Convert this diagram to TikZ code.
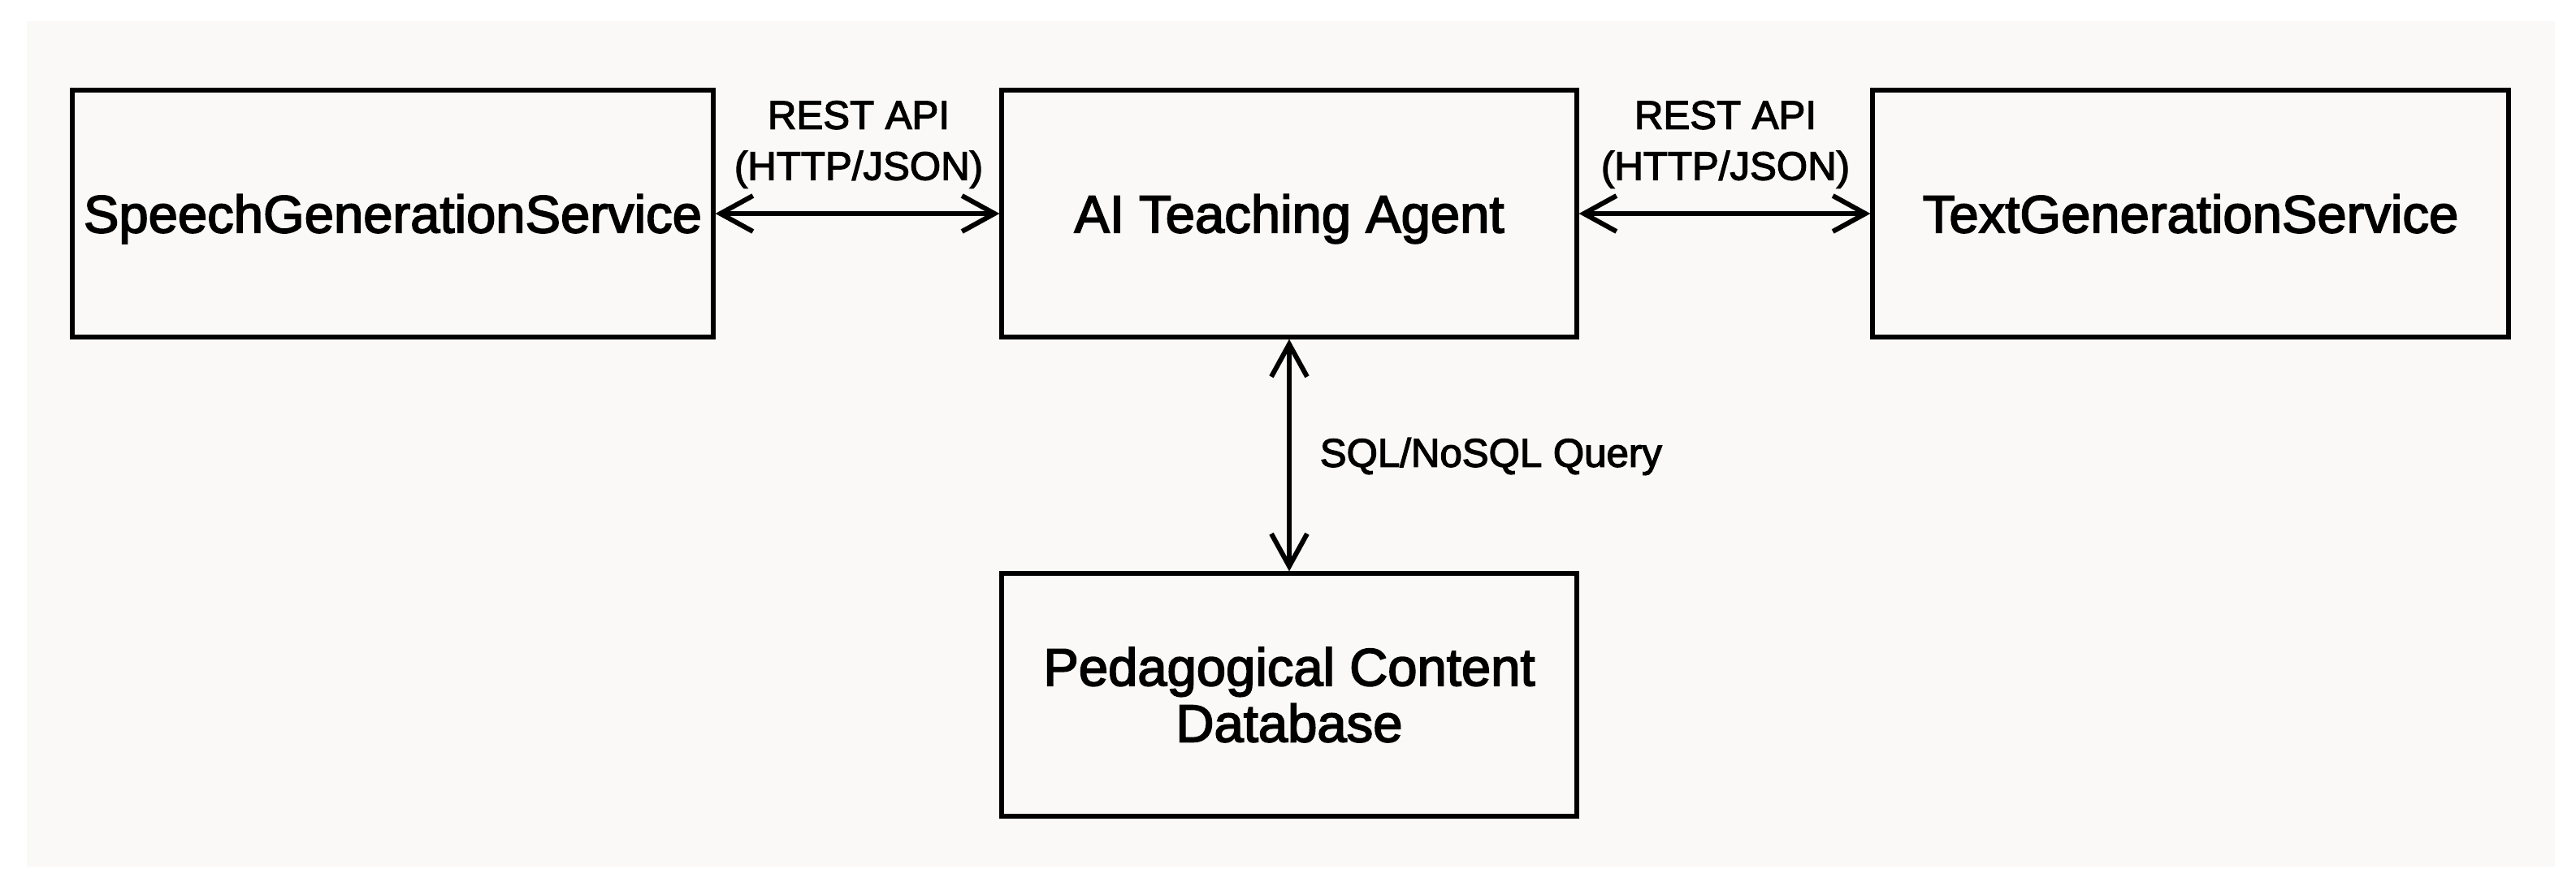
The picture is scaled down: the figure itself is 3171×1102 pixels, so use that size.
\documentclass[tikz,border=0pt]{standalone}
\usepackage{fontspec}
\setmainfont{Liberation Sans}
\newfontfamily\medfont{Liberation Sans}[FakeBold=2.6]
\usetikzlibrary{arrows.meta}
\definecolor{paper}{HTML}{FAF9F7}
\tikzset{
  box/.style={draw=black, line width=1.3pt, rectangle, inner sep=0pt, align=center,
    font=\medfont\fontsize{16.3}{18}\selectfont},
  onel/.style={text height=11.7pt, text depth=0pt},
  link/.style={line width=1.3pt, {Straight Barb[length=10pt,width=11pt,line width=1.5pt]}-{Straight Barb[length=10pt,width=11pt,line width=1.5pt]}},
  lbl/.style={font=\medfont\fontsize{12.3}{15.7}\selectfont, align=center, inner sep=0pt}
}
\begin{document}
\begin{tikzpicture}[x=0.25pt,y=-0.25pt]
\useasboundingbox (0,0) rectangle (3171,1102);
\fill[paper] (33,26) rectangle (3145,1067);
\node[box, onel, minimum width=197.25pt, minimum height=76pt] (speech) at (483.5,263) {SpeechGenerationService};
\node[box, onel, minimum width=177pt, minimum height=76pt] (agent) at (1587,263) {AI Teaching Agent};
\node[box, onel, minimum width=195.75pt, minimum height=76pt] (text) at (2696.5,263) {TextGenerationService};
\node[box, minimum width=177pt, minimum height=74.75pt, font=\medfont\fontsize{16.3}{17.3}\selectfont] (db) at (1587,855.5) {Pedagogical Content\\Database};
\draw[link] (speech) -- (agent);
\draw[link] (agent) -- (text);
\draw[link] (agent) -- (db);
\node[lbl] (l1) at (1057,178) {REST API\\(HTTP/JSON)};
\node[lbl] (l2) at (2124,178) {REST API\\(HTTP/JSON)};
\node[lbl, anchor=west] (l3) at (1624,562) {SQL/NoSQL Query};
\end{tikzpicture}
\end{document}
